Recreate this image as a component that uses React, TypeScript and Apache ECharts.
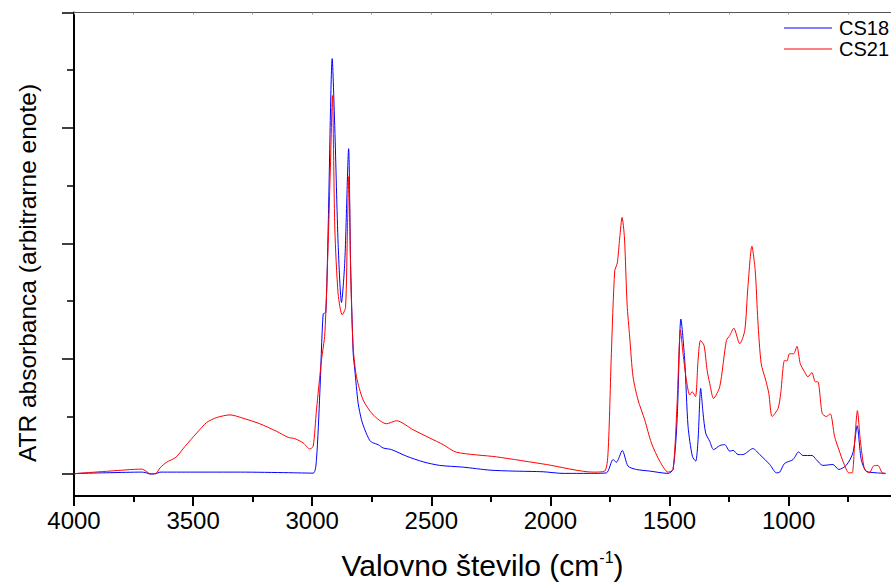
import React, { useEffect, useRef } from "react";
import * as echarts from "echarts";

// CS18 (blue) spectrum: wavenumber (cm-1) and ATR absorbance (a.u.)
const cs18Wn = [4000, 3989, 3850, 3716, 3698, 3681, 3656, 3639, 3500, 3300, 3100, 2996, 2982, 2968, 2954, 2943, 2933, 2916, 2905, 2891, 2877, 2863, 2847, 2839, 2828, 2821, 2807, 2793, 2779, 2758, 2744, 2723, 2702, 2667, 2604, 2534, 2464, 2366, 2254, 2157, 2031, 1947, 1835, 1765, 1737, 1723, 1698, 1674, 1639, 1583, 1506, 1485, 1468, 1452, 1436, 1422, 1404, 1390, 1380, 1369, 1359, 1348, 1331, 1315, 1289, 1268, 1247, 1233, 1212, 1192, 1150, 1121, 1079, 1051, 1037, 1017, 981, 958, 940, 901, 884, 856, 814, 789, 758, 730, 712, 695, 674, 632, 593];
const cs18Abs = [0.0, 0.005, 0.012, 0.017, 0.012, 0.0, 0.003, 0.017, 0.017, 0.017, 0.012, 0.008, 0.13, 0.7, 1.387, 1.4, 2.13, 3.6, 2.99, 1.99, 1.487, 1.846, 2.82, 1.846, 1.05, 0.9, 0.613, 0.47, 0.384, 0.29, 0.27, 0.255, 0.226, 0.212, 0.155, 0.106, 0.075, 0.06, 0.034, 0.026, 0.02, 0.006, 0.006, 0.01, 0.126, 0.103, 0.204, 0.069, 0.04, 0.026, 0.006, 0.04, 0.47, 1.344, 0.986, 0.413, 0.155, 0.112, 0.298, 0.742, 0.527, 0.355, 0.284, 0.212, 0.247, 0.255, 0.198, 0.206, 0.169, 0.169, 0.221, 0.169, 0.083, 0.011, 0.017, 0.092, 0.126, 0.192, 0.161, 0.161, 0.126, 0.075, 0.083, 0.04, 0.075, 0.183, 0.419, 0.126, 0.026, 0.011, 0.006];

// CS21 (red) spectrum
const cs21Wn = [4000, 3989, 3849, 3716, 3698, 3681, 3656, 3639, 3611, 3572, 3534, 3485, 3443, 3401, 3345, 3290, 3220, 3149, 3101, 3073, 3038, 3010, 2996, 2982, 2961, 2947, 2933, 2923, 2915, 2905, 2891, 2874, 2860, 2852, 2846, 2838, 2828, 2814, 2786, 2744, 2688, 2646, 2576, 2506, 2450, 2394, 2226, 2017, 1821, 1772, 1758, 1744, 1730, 1719, 1709, 1699, 1689, 1678, 1667, 1653, 1632, 1604, 1576, 1541, 1506, 1485, 1468, 1454, 1443, 1429, 1415, 1405, 1391, 1380, 1370, 1355, 1342, 1331, 1315, 1289, 1261, 1247, 1230, 1205, 1184, 1171, 1154, 1140, 1129, 1115, 1096, 1083, 1069, 1044, 1033, 1017, 1007, 996, 979, 965, 951, 933, 919, 902, 888, 877, 859, 842, 825, 807, 789, 769, 747, 733, 722, 711, 699, 681, 661, 644, 625, 607, 593];
const cs21Abs = [0.0, 0.005, 0.026, 0.043, 0.026, 0.003, 0.006, 0.054, 0.103, 0.146, 0.24, 0.355, 0.447, 0.49, 0.513, 0.484, 0.436, 0.37, 0.318, 0.307, 0.27, 0.218, 0.24, 0.556, 0.986, 1.215, 1.99, 2.71, 3.28, 2.13, 1.56, 1.38, 1.445, 2.13, 2.58, 1.7, 1.1, 0.843, 0.642, 0.513, 0.436, 0.462, 0.384, 0.312, 0.255, 0.189, 0.149, 0.083, 0.017, 0.026, 0.183, 1.043, 1.76, 1.83, 2.046, 2.224, 2.046, 1.473, 1.187, 0.843, 0.642, 0.47, 0.27, 0.112, 0.017, 0.04, 0.613, 1.25, 1.043, 0.814, 0.685, 0.714, 0.671, 0.986, 1.158, 1.115, 0.9, 0.785, 0.656, 0.757, 1.158, 1.2, 1.264, 1.129, 1.244, 1.616, 1.975, 1.76, 1.33, 0.957, 0.814, 0.7, 0.499, 0.57, 0.7, 0.986, 0.98, 1.043, 1.043, 1.107, 0.957, 0.886, 0.843, 0.88, 0.8, 0.8, 0.527, 0.499, 0.522, 0.327, 0.212, 0.097, 0.011, 0.011, 0.298, 0.55, 0.298, 0.04, 0.011, 0.069, 0.075, 0.011, 0.006];

const seriesNames = ["CS18", "CS21"];
const seriesColors = ["#0000ff", "#ff0000"];
const xMajorTicks = [4000, 3500, 3000, 2500, 2000, 1500, 1000];
const xMinorTicks = [3750, 3250, 2750, 2250, 1750, 1250, 750];
const yMajorTicks = [0, 1, 2, 3, 4];
const yMinorTicks = [0.5, 1.5, 2.5, 3.5];

const X_MIN = 570;
const X_MAX = 4000;
const Y_MIN = -0.19;
const Y_MAX = 4;

const FONT = "'Liberation Sans', Arial, sans-serif";

const zip = (xs: number[], ys: number[]) => xs.map((x, i) => [x, ys[i]]);

export default function App() {
  const ref = useRef<HTMLDivElement>(null);
  useEffect(() => {
    if (!ref.current) return;
    const chart = echarts.init(ref.current, null, { renderer: "svg" });
    const baseX = {
      type: "value",
      min: X_MIN,
      max: X_MAX,
      inverse: true,
      splitLine: { show: false },
    };
    const baseY = {
      type: "value",
      min: Y_MIN,
      max: Y_MAX,
      splitLine: { show: false },
      axisLabel: { show: false },
    };
    chart.setOption({
      animation: false,
      backgroundColor: "#ffffff",
      grid: { left: 74, right: 0, top: 12.5, bottom: 85, containLabel: false },
      legend: {
        data: seriesNames.map((n, i) => ({
          name: n,
          icon: "rect",
          itemStyle: { color: seriesColors[i], opacity: 1, borderWidth: 0 },
        })),
        orient: "vertical",
        right: 2,
        top: 18,
        padding: 0,
        itemWidth: 48,
        itemHeight: 1.2,
        itemGap: 1,
        textStyle: { fontFamily: FONT, fontSize: 20, lineHeight: 20, color: "#000", padding: [0, 0, 0, 2] },
      },
      xAxis: [
        {
          ...baseX,
          position: "bottom",
          axisLine: { show: true, onZero: false, lineStyle: { color: "#000", width: 2 } },
          axisTick: { show: true, customValues: xMajorTicks, length: 10, lineStyle: { color: "#000", width: 2 } },
          axisLabel: {
            show: true,
            customValues: xMajorTicks,
            formatter: (v: number) => String(v),
            margin: 12,
            fontFamily: FONT,
            fontSize: 24,
            color: "#000",
          },
          name: "{a|Valovno število (cm}{s|-1}{a|)}",
          nameLocation: "middle",
          nameGap: 53,
          nameTextStyle: {
            fontFamily: FONT,
            color: "#000",
            rich: {
              a: { fontFamily: FONT, fontSize: 30, lineHeight: 32, color: "#000" },
              s: { fontFamily: FONT, fontSize: 16, lineHeight: 16, verticalAlign: "top", color: "#000" },
            },
          },
        },
        {
          ...baseX,
          position: "bottom",
          axisLine: { show: false, onZero: false },
          axisTick: { show: true, customValues: xMinorTicks, length: 6, lineStyle: { color: "#000", width: 2 } },
          axisLabel: { show: false },
        },
        {
          ...baseX,
          position: "top",
          axisLine: { show: true, onZero: false, lineStyle: { color: "#555", width: 1 } },
          axisTick: { show: true, inside: true, customValues: xMinorTicks.concat(xMajorTicks), length: 2, lineStyle: { color: "#999", width: 1 } },
          axisLabel: { show: false },
        },
      ],
      yAxis: [
        {
          ...baseY,
          position: "left",
          axisLine: { show: true, onZero: false, lineStyle: { color: "#000", width: 2 } },
          axisTick: { show: true, customValues: yMajorTicks, length: 12, lineStyle: { color: "#000", width: 1.5 } },
        },
        {
          ...baseY,
          position: "left",
          axisLine: { show: false, onZero: false },
          axisTick: { show: true, customValues: yMinorTicks, length: 7, lineStyle: { color: "#000", width: 1.5 } },
        },
      ],
      graphic: [
        {
          type: "text",
          x: 27,
          y: 273,
          rotation: Math.PI / 2,
          style: {
            text: "ATR absorbanca (arbitrarne enote)",
            fontFamily: FONT,
            fontSize: 24.5,
            fill: "#000",
            textAlign: "center",
            textVerticalAlign: "middle",
          },
        },
      ],
      series: seriesNames.map((name, i) => ({
        name,
        type: "line",
        xAxisIndex: 0,
        yAxisIndex: 0,
        data: i === 0 ? zip(cs18Wn, cs18Abs) : zip(cs21Wn, cs21Abs),
        symbol: "none",
        smooth: 0.25,
        color: seriesColors[i],
        lineStyle: { color: seriesColors[i], width: 1 },
        itemStyle: { color: seriesColors[i] },
      })),
    });
    return () => chart.dispose();
  }, []);
  return <div ref={ref} style={{ width: 891, height: 585, position: "absolute", left: 0, top: 0 }} />;
}
